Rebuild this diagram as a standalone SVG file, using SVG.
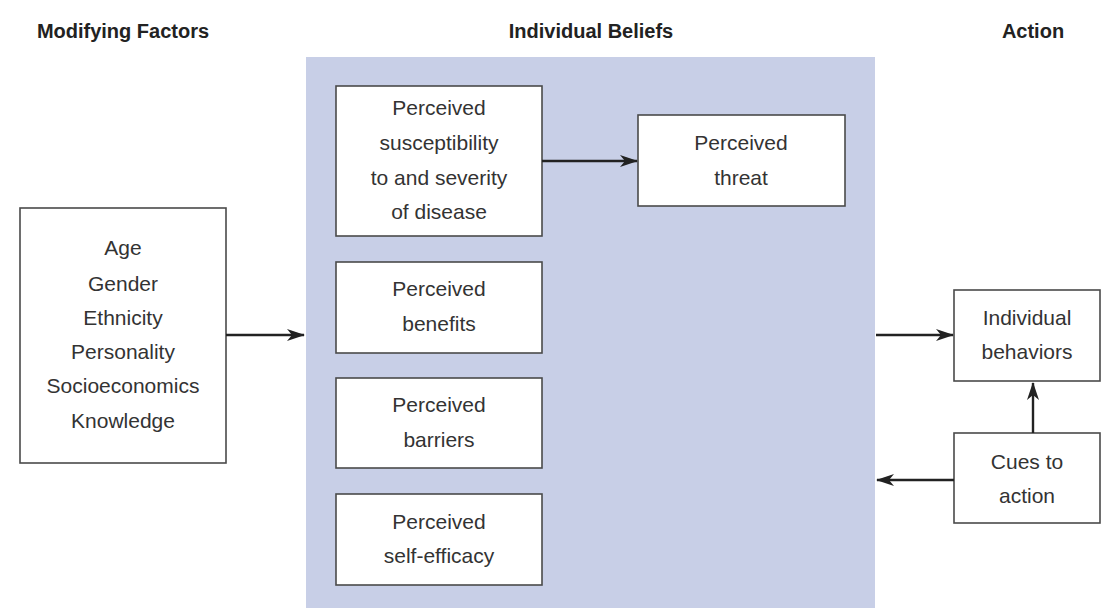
<svg xmlns="http://www.w3.org/2000/svg" width="1102" height="608" viewBox="0 0 1102 608">
<style>
.title{font-family:"Liberation Sans",Arial,sans-serif;font-weight:bold;font-size:20px;fill:#222;text-anchor:middle}
.lbl{font-family:"Liberation Sans",Arial,sans-serif;font-size:21px;fill:#333;text-anchor:middle}
.box{fill:#fff;stroke:#4a4a4a;stroke-width:1.6}
.conn{stroke:#222;stroke-width:2.4;fill:none;marker-end:url(#arr)}
</style>
<defs>
<marker id="arr" viewBox="0 0 18 12" refX="17" refY="6" markerWidth="18" markerHeight="12" markerUnits="userSpaceOnUse" orient="auto">
<path d="M0,0 L18,6 L0,12 L5,6 z" fill="#222"/>
</marker>
</defs>
<rect width="1102" height="608" fill="#fff"/>
<text class="title" x="123" y="38">Modifying Factors</text>
<text class="title" x="591" y="38">Individual Beliefs</text>
<text class="title" x="1033" y="38">Action</text>
<rect id="panel" x="306" y="57" width="569" height="551" fill="#c8cfe7"/>
<g id="modifying">
<rect class="box" x="20" y="208" width="206" height="255"/>
<text class="lbl" x="123" y="255">Age</text>
<text class="lbl" x="123" y="291">Gender</text>
<text class="lbl" x="123" y="325">Ethnicity</text>
<text class="lbl" x="123" y="359">Personality</text>
<text class="lbl" x="123" y="393">Socioeconomics</text>
<text class="lbl" x="123" y="428">Knowledge</text>
</g>
<g id="susceptibility">
<rect class="box" x="336" y="86" width="206" height="150"/>
<text class="lbl" x="439" y="115">Perceived</text>
<text class="lbl" x="439" y="150">susceptibility</text>
<text class="lbl" x="439" y="185">to and severity</text>
<text class="lbl" x="439" y="219">of disease</text>
</g>
<g id="threat">
<rect class="box" x="638" y="115" width="207" height="91"/>
<text class="lbl" x="741" y="150">Perceived</text>
<text class="lbl" x="741" y="185">threat</text>
</g>
<g id="benefits">
<rect class="box" x="336" y="262" width="206" height="91"/>
<text class="lbl" x="439" y="296">Perceived</text>
<text class="lbl" x="439" y="331">benefits</text>
</g>
<g id="barriers">
<rect class="box" x="336" y="378" width="206" height="90"/>
<text class="lbl" x="439" y="412">Perceived</text>
<text class="lbl" x="439" y="447">barriers</text>
</g>
<g id="selfefficacy">
<rect class="box" x="336" y="494" width="206" height="91"/>
<text class="lbl" x="439" y="529">Perceived</text>
<text class="lbl" x="439" y="563">self-efficacy</text>
</g>
<g id="behaviors">
<rect class="box" x="954" y="290" width="146" height="91"/>
<text class="lbl" x="1027" y="325">Individual</text>
<text class="lbl" x="1027" y="359">behaviors</text>
</g>
<g id="cues">
<rect class="box" x="954" y="433" width="146" height="90"/>
<text class="lbl" x="1027" y="469">Cues to</text>
<text class="lbl" x="1027" y="503">action</text>
</g>
<g id="connectors">
<line class="conn" x1="226" y1="335" x2="304" y2="335"/>
<line class="conn" x1="542" y1="161" x2="637" y2="161"/>
<line class="conn" x1="876" y1="335" x2="953" y2="335"/>
<line class="conn" x1="1033" y1="433" x2="1033" y2="383"/>
<line class="conn" x1="954" y1="480" x2="877" y2="480"/>
</g>
</svg>
